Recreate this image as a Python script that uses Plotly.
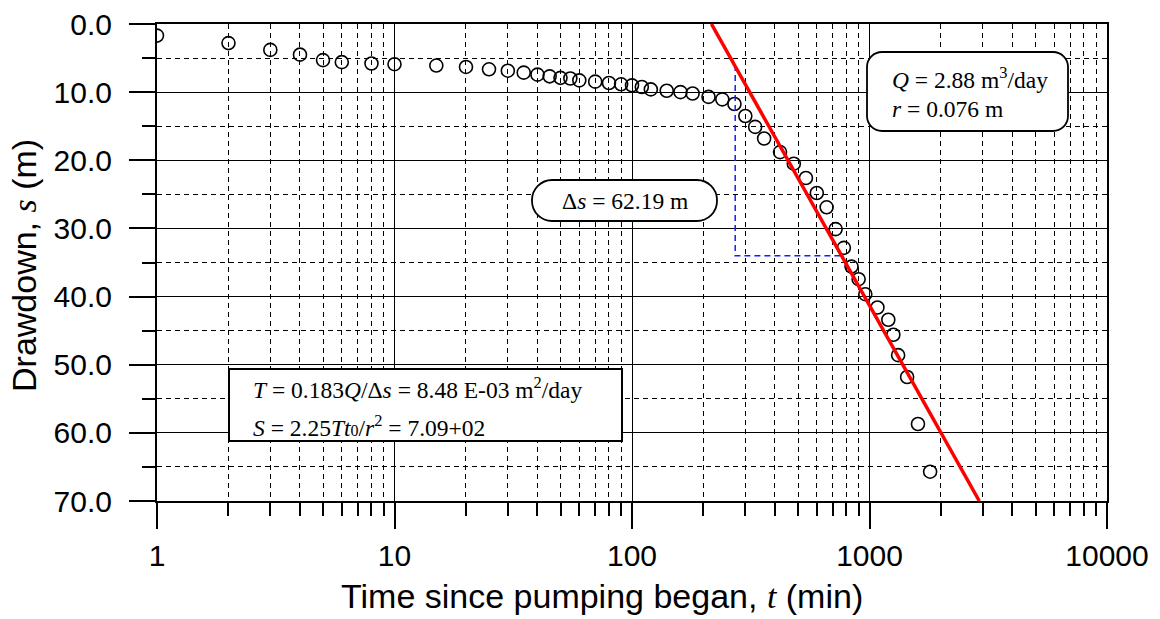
import plotly.graph_objects as go

time_min = [1, 2, 3, 4, 5, 6, 8, 10, 15, 20, 25, 30, 35, 40, 45, 50, 55, 60,
            70, 80, 90, 100, 110, 120, 140, 160, 180, 210, 240, 270, 300, 330,
            360, 420, 480, 540, 600, 660, 720, 780, 840, 900, 960, 1080, 1200,
            1260, 1320, 1440, 1600, 1800]
drawdown_m = [1.7, 2.8, 3.8, 4.5, 5.3, 5.6, 5.8, 5.9, 6.1, 6.3, 6.65, 6.85,
              7.14, 7.43, 7.68, 7.9, 8.0, 8.27, 8.46, 8.66, 8.85, 9.0, 9.25,
              9.6, 9.8, 10.0, 10.2, 10.7, 11.06, 11.74, 13.5, 15.1, 16.8, 18.8,
              20.5, 22.6, 24.8, 26.9, 30.1, 32.85, 35.6, 37.45, 39.65, 41.6,
              43.4, 45.6, 48.6, 51.8, 58.7, 65.7]

# Cooper-Jacob straight line and the delta-s construction
fit_t = [216, 2900]
fit_s = [0.0, 70.0]
delta_t = [272, 272, 774]
delta_s = [6.0, 34.0, 34.0]

x_tickvals = [1, 10, 100, 1000, 10000]
x_ticktext = ["1", "10", "100", "1000", "10000"]
y_tickvals = [0, 10, 20, 30, 40, 50, 60, 70]
y_ticktext = ["0.0", "10.0", "20.0", "30.0", "40.0", "50.0", "60.0", "70.0"]

SANS = "Liberation Sans, Arial, sans-serif"
SERIF = "Liberation Serif, Times New Roman, serif"

W, H = 1160, 619
L, R, T, B = 157, 1107, 24, 501  # plot area in pixels


def px(x):
    return (x - L) / (R - L)


def py(y):
    return (B - y) / (B - T)


def rounded_box(x0, y0, x1, y1, rad, fill="white"):
    k = 0.5523 * rad
    pts = [
        f"M {px(x0 + rad)} {py(y0)}",
        f"L {px(x1 - rad)} {py(y0)}",
        f"C {px(x1 - rad + k)} {py(y0)} {px(x1)} {py(y0 + rad - k)} {px(x1)} {py(y0 + rad)}",
        f"L {px(x1)} {py(y1 - rad)}",
        f"C {px(x1)} {py(y1 - rad + k)} {px(x1 - rad + k)} {py(y1)} {px(x1 - rad)} {py(y1)}",
        f"L {px(x0 + rad)} {py(y1)}",
        f"C {px(x0 + rad - k)} {py(y1)} {px(x0)} {py(y1 - rad + k)} {px(x0)} {py(y1 - rad)}",
        f"L {px(x0)} {py(y0 + rad)}",
        f"C {px(x0)} {py(y0 + rad - k)} {px(x0 + rad - k)} {py(y0)} {px(x0 + rad)} {py(y0)}",
        "Z",
    ]
    return dict(type="path", xref="paper", yref="paper", path=" ".join(pts),
                fillcolor=fill, line=dict(color="black", width=1.8), layer="above")


def label(x, y, text, anchor="left", size=23.5, family=SERIF, angle=0):
    return dict(x=px(x), y=py(y), xref="paper", yref="paper", text=text,
                showarrow=False, xanchor=anchor, yanchor="middle",
                textangle=angle, font=dict(family=family, size=size, color="black"))


fig = go.Figure()
fig.add_trace(go.Scatter(
    x=time_min, y=drawdown_m, mode="markers",
    marker=dict(symbol="circle-open", size=13, color="black",
                line=dict(width=1.6, color="black")),
))
fig.add_trace(go.Scatter(
    x=delta_t, y=delta_s, mode="lines",
    line=dict(color="#1a1aff", width=1.5, dash="6px,4px"),
))
fig.add_trace(go.Scatter(
    x=fit_t, y=fit_s, mode="lines",
    line=dict(color="#ff0000", width=3.5),
))

grid_minor = dict(ticks="outside", ticklen=13, tickwidth=1.6, tickcolor="black",
                  showgrid=True, gridcolor="black", gridwidth=1, griddash="5px,4px")

fig.update_xaxes(
    type="log", range=[0, 4], tickmode="array",
    tickvals=x_tickvals, ticktext=x_ticktext,
    ticks="outside", ticklen=26, tickwidth=2, tickcolor="black",
    showline=True, linewidth=2, linecolor="black", mirror=True,
    showgrid=True, gridcolor="black", gridwidth=1,
    minor=dict(dtick="D1", **grid_minor),
    tickfont=dict(family=SANS, size=30, color="black"),
    ticklabelstandoff=1,
)
fig.update_yaxes(
    range=[70, 0], tickmode="array",
    tickvals=y_tickvals, ticktext=y_ticktext,
    ticks="outside", ticklen=26, tickwidth=2, tickcolor="black",
    showline=True, linewidth=2, linecolor="black", mirror=True,
    showgrid=True, gridcolor="black", gridwidth=1, zeroline=False,
    minor=dict(dtick=5, tick0=0, **grid_minor),
    tickfont=dict(family=SANS, size=30, color="black"),
    ticklabelstandoff=11,
)

shapes = [
    rounded_box(532, 180, 717, 221, 20),
    rounded_box(867, 52, 1068, 131, 15),
    dict(type="rect", xref="paper", yref="paper",
         x0=px(229), y0=py(369), x1=px(622), y1=py(441),
         fillcolor="white", line=dict(color="black", width=2), layer="above"),
]

annotations = [
    label(624.5, 201, "Δ<i>s</i> = 62.19 m", anchor="center"),
    label(890, 78, "<i>Q</i> = 2.88 m<sup>3</sup>/day"),
    label(890, 109, "<i>r</i> = 0.076 m"),
    label(251, 388, "<i>T</i> = 0.183<i>Q</i>/Δ<i>s</i> = 8.48 E-03 m<sup>2</sup>/day"),
    label(251, 426, "<i>S</i> = 2.25<i>Tt</i><span style='font-size:16px'>0</span>/<i>r</i><sup>2</sup> = 7.09+02"),
    label(602, 596,
          f"Time since pumping began, <span style='font-family:{SERIF}'><i>t</i></span> (min)",
          anchor="center", size=34, family=SANS),
    label(24, 266, f"Drawdown, <span style='font-family:{SERIF}'><i>s</i></span> (m)",
          anchor="center", size=34, family=SANS, angle=-90),
]

fig.update_layout(
    width=W, height=H,
    margin=dict(l=L, r=W - R, t=T, b=H - B, autoexpand=False),
    paper_bgcolor="white", plot_bgcolor="white",
    showlegend=False,
    shapes=shapes,
    annotations=annotations,
)

# the page body has a default 8px margin; drop it so the figure fills the window
fig.write_html("out.html", config={"displayModeBar": False},
               post_script="document.body.style.margin='0';")
